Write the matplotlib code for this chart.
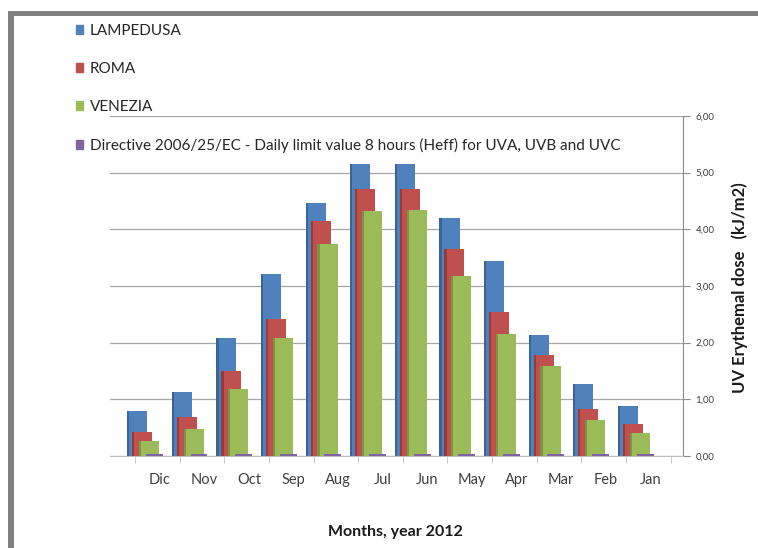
import numpy as np
import matplotlib
matplotlib.use("Agg")
import matplotlib.pyplot as plt
from matplotlib.patches import Rectangle, Patch

plt.rcParams['font.family'] = ['Lato', 'DejaVu Sans']

months = ["Dic", "Nov", "Oct", "Sep", "Aug", "Jul", "Jun", "May", "Apr", "Mar", "Feb", "Jan"]
lampedusa = [0.79, 1.13, 2.08, 3.21, 4.46, 5.15, 5.15, 4.20, 3.44, 2.13, 1.27, 0.88]
roma = [0.42, 0.69, 1.50, 2.42, 4.14, 4.71, 4.71, 3.65, 2.54, 1.78, 0.83, 0.56]
venezia = [0.26, 0.48, 1.18, 2.08, 3.74, 4.32, 4.34, 3.17, 2.15, 1.59, 0.63, 0.41]
directive = [0.03, 0.03, 0.03, 0.03, 0.03, 0.03, 0.03, 0.03, 0.03, 0.03, 0.03, 0.03]
yticks = [0, 1, 2, 3, 4, 5, 6]
ytick_labels = ["0,00", "1,00", "2,00", "3,00", "4,00", "5,00", "6,00"]

fig = plt.figure(figsize=(7.58, 5.48), dpi=100)

# grey frame (top and left edges of the scanned page)
fig.add_artist(Rectangle((8 / 758, 1 - 16 / 548), 1, 5 / 548, transform=fig.transFigure,
                         color="#808080", lw=0))
fig.add_artist(Rectangle((8 / 758, 0), 6 / 758, 1 - 11 / 548, transform=fig.transFigure,
                         color="#808080", lw=0))

ax = fig.add_axes([110 / 758, 92 / 548, 573 / 758, 340 / 548])

x = np.arange(len(months))
w = 0.45
series = [
    (lampedusa, "#4F81BD", "#3A6396", -0.40, 2),
    (roma, "#C0504D", "#963B38", -0.29, 3),
    (venezia, "#9BBB59", "#7A9644", -0.135, 4),
]
for vals, col, dark, off, z in series:
    ax.bar(x + off, vals, width=w, align='edge', color=col, lw=0, zorder=z)
    ax.bar(x + off, vals, width=0.05, align='edge', color=dark, lw=0, zorder=z)
ax.bar(x + 0.02, directive, width=0.38, align='edge', color="#8064A2", lw=0, zorder=5)

ax.set_xlim(-0.785, 12.06)
ax.set_ylim(0, 6)

ax.set_yticks(yticks)
ax.set_yticklabels(ytick_labels)
ax.yaxis.tick_right()
ax.tick_params(axis='y', length=5, color="#8c8c8c", labelsize=7, labelcolor="#404040", pad=4)
ax.yaxis.grid(True, color="#a6a6a6", lw=0.9)
ax.set_axisbelow(True)

ax.set_xticks(x + 0.33)
ax.set_xticklabels(months)
ax.set_xticks(np.append(x, 12) - 0.22, minor=True)
ax.tick_params(axis='x', which='major', length=0, labelsize=10.5, labelcolor="#404040", pad=12)
ax.tick_params(axis='x', which='minor', length=5, color="#bfbfbf")

for side in ["top", "left"]:
    ax.spines[side].set_visible(False)
ax.spines["right"].set_color("#8c8c8c")
ax.spines["bottom"].set_color("#bfbfbf")

fig.text(395 / 758, 1 - 532 / 548, "Months, year 2012", ha='center', va='center',
         fontsize=11.5, fontweight='bold', color="#1a1a1a")
fig.text(740 / 758, 1 - 288 / 548, "UV Erythemal dose   (kJ/m2)", ha='center', va='center',
         rotation=90, fontsize=12, fontweight='bold', color="#1a1a1a")

handles = [Patch(color="#4F81BD"), Patch(color="#C0504D"), Patch(color="#9BBB59"), Patch(color="#8064A2")]
labels = ["LAMPEDUSA", "ROMA", "VENEZIA",
          "Directive 2006/25/EC - Daily limit value 8 hours (Heff) for UVA, UVB and UVC"]
fig.legend(handles, labels, loc='upper left', bbox_to_anchor=(62 / 758, 1 - 10 / 548),
           frameon=False, handlelength=0.5, handleheight=0.5, handletextpad=0.4,
           labelspacing=1.58, fontsize=11, labelcolor="#262626")

fig.savefig("out.png", dpi=100)
